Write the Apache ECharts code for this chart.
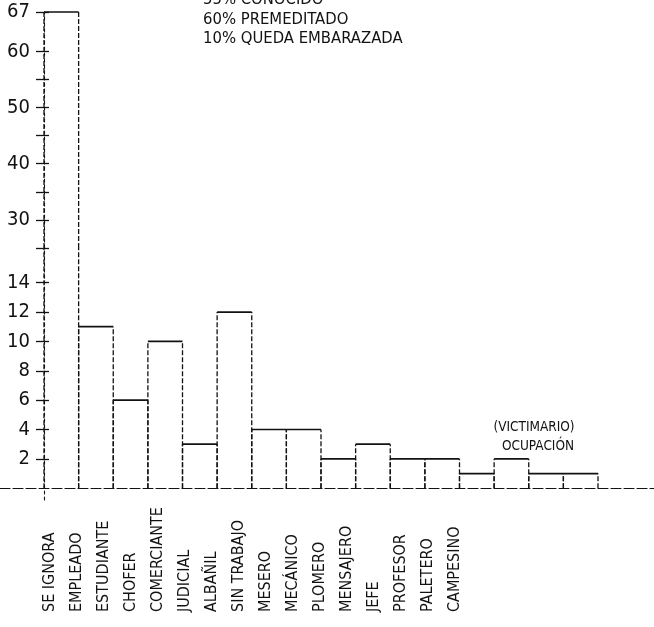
<!DOCTYPE html>
<html>
<head>
<meta charset="utf-8">
<script src="https://cdn.jsdelivr.net/npm/echarts@6/dist/echarts.min.js"></script>
<style>
html,body{margin:0;padding:0;background:#fff;}
#chart{width:654px;height:627px;}
</style>
</head>
<body>
<div id="chart"></div>
<script>
// ---- data ----
const categories = ['SE IGNORA','EMPLEADO','ESTUDIANTE','CHOFER','COMERCIANTE','JUDICIAL','ALBAÑIL','SIN TRABAJO','MESERO','MECÁNICO','PLOMERO','MENSAJERO','JEFE','PROFESOR','PALETERO','CAMPESINO'];
const counts = [67, 11, 6, 10, 3, 12, 4, 4, 2, 3, 2, 2, 1, 2, 1, 1];
const lowerTicks = [2, 4, 6, 8, 10, 12, 14];
const upperTicks = [25, 30, 35, 40, 45, 50, 55, 60, 67];
const upperLabels = [30, 40, 50, 60, 67];
const notes = ['55% CONOCIDO', '60% PREMEDITADO', '10% QUEDA EMBARAZADA'];
const caption = ['(VICTIMARIO)', 'OCUPACIÓN'];

// broken axis: lower segment 0..14 (+ gap), upper segment 25..67
const LOWER_MIN = -0.8, LOWER_MAX = 16.36;
const UPPER_MIN = 25, UPPER_MAX = 67;

const INK = '#121212';
const FONT = '"DejaVu Sans Condensed","Liberation Sans Narrow",sans-serif';
const vStyle = {stroke: INK, lineWidth: 1.3, lineDash: [5, 2], fill: null};
const hStyle = {stroke: INK, lineWidth: 1.7, fill: null};

const seriesData = counts.map((v, i) => [i, v]);

function band(api, i) {
  const w = api.size([1, 0])[0];
  const c = api.coord([i, 0]);
  return [c[0] - w / 2, c[0] + w / 2];
}

function renderLower(params, api) {
  const i = api.value(0), v = api.value(1);
  const [x0, x1] = band(api, i);
  const yb = api.coord([i, 0])[1];
  const clipped = v > LOWER_MAX;
  const yt = api.coord([i, clipped ? LOWER_MAX : v])[1];
  const children = [
    {type: 'line', shape: {x1: x0, y1: yb, x2: x0, y2: yt}, style: vStyle},
    {type: 'line', shape: {x1: x1, y1: yb, x2: x1, y2: yt}, style: vStyle}
  ];
  if (!clipped) children.push({type: 'line', shape: {x1: x0, y1: yt, x2: x1, y2: yt}, style: hStyle});
  return {type: 'group', children};
}

function renderUpper(params, api) {
  const i = api.value(0), v = api.value(1);
  if (v <= UPPER_MIN) return null;
  const [x0, x1] = band(api, i);
  const yb = api.coord([i, UPPER_MIN])[1];
  const yt = api.coord([i, v])[1];
  return {type: 'group', children: [
    {type: 'line', shape: {x1: x0, y1: yb, x2: x0, y2: yt}, style: vStyle},
    {type: 'line', shape: {x1: x1, y1: yb, x2: x1, y2: yt}, style: vStyle},
    {type: 'line', shape: {x1: x0, y1: yt, x2: x1, y2: yt}, style: hStyle}
  ]};
}

const axisLineDash = {show: true, lineStyle: {color: INK, width: 1.1, type: [3, 3]}};
const yLabel = {color: INK, fontFamily: FONT, fontSize: 20, margin: 14};

const chart = echarts.init(document.getElementById('chart'), null, {renderer: 'canvas'});
chart.setOption({
  backgroundColor: '#fff',
  animation: false,
  grid: [
    {left: 44, width: 554, top: 248, height: 252},      // lower segment
    {left: 44, width: 554, top: 12, height: 236},       // upper segment
    {left: 0, width: 654, top: 388.25, height: 100},    // full-width baseline
    {left: 36.5, width: 432, top: 614, height: 8}       // category labels
  ],
  xAxis: [
    {type: 'category', gridIndex: 0, data: categories, show: false},
    {type: 'category', gridIndex: 1, data: categories, show: false},
    {type: 'value', gridIndex: 2, min: 0, max: 1, axisLine: {show: true, onZero: false, lineStyle: {color: INK, width: 1.2, type: [10, 3]}}, axisTick: {show: false}, axisLabel: {show: false}, splitLine: {show: false}},
    {type: 'category', gridIndex: 3, position: 'top', data: categories,
      axisLine: {show: false}, axisTick: {show: false}, splitLine: {show: false},
      axisLabel: {rotate: 90, interval: 0, margin: 2, color: INK, fontFamily: FONT, fontSize: 16}}
  ],
  yAxis: [
    {type: 'value', gridIndex: 0, position: 'left', offset: 0, min: LOWER_MIN, max: LOWER_MAX, splitLine: {show: false},
      axisLine: axisLineDash,
      axisTick: {show: true, length: 8, customValues: lowerTicks, lineStyle: {color: INK, width: 1.3}},
      axisLabel: Object.assign({customValues: lowerTicks}, yLabel)},
    {type: 'value', gridIndex: 0, position: 'left', offset: 0, min: LOWER_MIN, max: LOWER_MAX, splitLine: {show: false},
      axisLine: {show: false}, axisLabel: {show: false},
      axisTick: {show: true, inside: true, length: 5, customValues: lowerTicks, lineStyle: {color: INK, width: 1.3}}},
    {type: 'value', gridIndex: 1, position: 'left', offset: 0, min: UPPER_MIN, max: UPPER_MAX, splitLine: {show: false},
      axisLine: axisLineDash,
      axisTick: {show: true, length: 8, customValues: upperTicks, lineStyle: {color: INK, width: 1.3}},
      axisLabel: Object.assign({customValues: upperLabels}, yLabel)},
    {type: 'value', gridIndex: 1, position: 'left', offset: 0, min: UPPER_MIN, max: UPPER_MAX, splitLine: {show: false},
      axisLine: {show: false}, axisLabel: {show: false},
      axisTick: {show: true, inside: true, length: 5, customValues: upperTicks, lineStyle: {color: INK, width: 1.3}}},
    {type: 'value', gridIndex: 2, show: false, min: 0, max: 1},
    {type: 'value', gridIndex: 3, show: false}
  ],
  series: [
    {type: 'custom', xAxisIndex: 0, yAxisIndex: 0, data: seriesData, encode: {x: 0, y: 1}, renderItem: renderLower, silent: true},
    {type: 'custom', xAxisIndex: 1, yAxisIndex: 2, data: seriesData, encode: {x: 0, y: 1}, renderItem: renderUpper, silent: true}
  ],
  graphic: [
    {type: 'text', x: 203, y: 0, style: {text: notes[0], fill: INK, font: '16.5px ' + FONT, verticalAlign: 'middle'}},
    {type: 'text', x: 203, y: 20, style: {text: notes[1], fill: INK, font: '16.5px ' + FONT, verticalAlign: 'middle'}},
    {type: 'text', x: 203, y: 39, style: {text: notes[2], fill: INK, font: '16.5px ' + FONT, verticalAlign: 'middle'}},
    {type: 'text', x: 534, y: 427, style: {text: caption[0], fill: INK, font: '13.5px ' + FONT, align: 'center', verticalAlign: 'middle'}},
    {type: 'text', x: 538, y: 446, style: {text: caption[1], fill: INK, font: '13.5px ' + FONT, align: 'center', verticalAlign: 'middle'}}
  ]
});
</script>
</body>
</html>
